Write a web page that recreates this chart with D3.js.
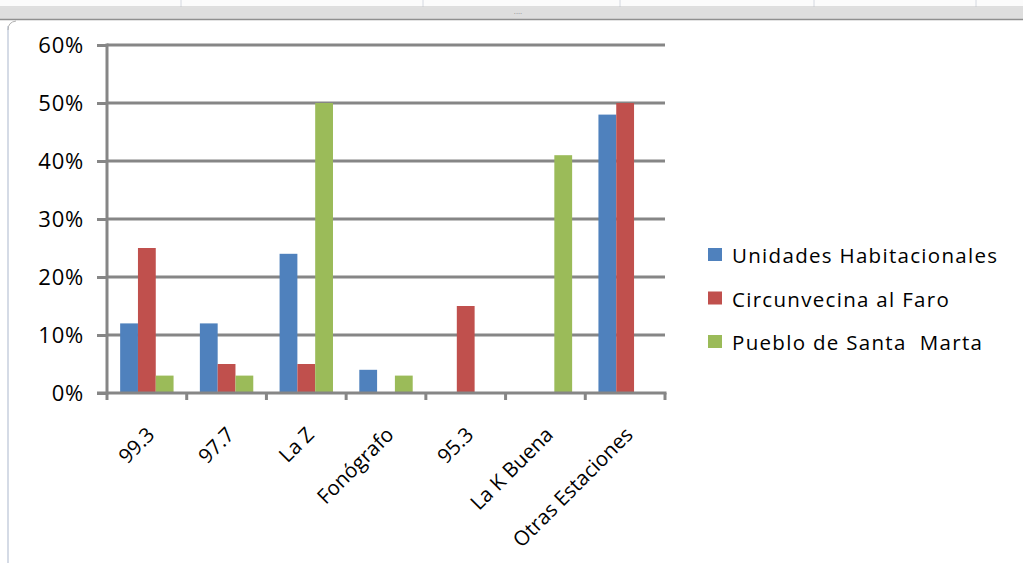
<!DOCTYPE html>
<html>
<head>
<meta charset="utf-8">
<script src="https://cdn.jsdelivr.net/npm/d3@7"></script>
<style>
  html, body { margin: 0; padding: 0; background: #fff; }
  svg { display: block; font-family: "Open Sans", "Noto Sans", sans-serif; }
</style>
</head>
<body>
<svg id="chart" width="1023" height="563"></svg>
<script>
// Data
const categories = ["99.3", "97.7", "La Z", "Fonógrafo", "95.3", "La K Buena", "Otras Estaciones"];
const seriesNames = ["Unidades Habitacionales", "Circunvecina al Faro", "Pueblo de Santa  Marta"];
const unidades = [12, 12, 24, 4, 0, 0, 48];
const circunvecina = [25, 5, 5, 0, 15, 0, 50];
const pueblo = [3, 3, 50, 3, 0, 41, 0];
const yTicks = [0, 10, 20, 30, 40, 50, 60];
const colors = ["#4f81bd", "#c0504d", "#9bbb59"];

const svg = d3.select("#chart");
const width = 1023, height = 563;

// spreadsheet chrome behind the chart
const chrome = svg.append("g");
chrome.append("rect").attr("x", 0).attr("y", 0).attr("width", width).attr("height", 7).attr("fill", "#fbfbfb");
[181, 423, 620, 814, 976].forEach(x => {
    chrome.append("line").attr("x1", x).attr("x2", x).attr("y1", 0).attr("y2", 7)
        .attr("stroke", "#d4d8e0").attr("stroke-width", 1);
});
chrome.append("line").attr("x1", 0).attr("x2", width).attr("y1", 7).attr("y2", 7).attr("stroke", "#c0c0c0");
chrome.append("rect").attr("x", 0).attr("y", 8).attr("width", width).attr("height", 11).attr("fill", "#dedede");
chrome.append("line").attr("x1", 0).attr("x2", width).attr("y1", 19.5).attr("y2", 19.5)
    .attr("stroke", "#8f8f8f").attr("stroke-width", 1.5);
chrome.append("text").attr("x", 518).attr("y", 16).attr("text-anchor", "middle")
    .attr("font-size", 8).attr("fill", "#888").text("····");
chrome.append("line").attr("x1", 8).attr("x2", 8).attr("y1", 26).attr("y2", height)
    .attr("stroke", "#d5dbe6").attr("stroke-width", 2);
chrome.append("path").attr("d", "M8,30 Q8,22 16,21").attr("fill", "none").attr("stroke", "#b0b0b0");

// Scales
const plot = { left: 107, right: 665, top: 45, bottom: 393 };
const x = d3.scaleBand().domain(categories).range([plot.left, plot.right])
    .paddingInner(0.33).paddingOuter(0.165);
const x1 = d3.scaleBand().domain(seriesNames).range([0, x.bandwidth()]);
const y = d3.scaleLinear().domain([0, 60]).range([plot.bottom, plot.top]);
const axisColor = "#868686";

// Gridlines
svg.append("g")
    .selectAll("line")
    .data(yTicks.filter(d => d > 0))
    .join("line")
    .attr("x1", plot.left).attr("x2", plot.right)
    .attr("y1", d => y(d)).attr("y2", d => y(d))
    .attr("stroke", axisColor).attr("stroke-width", 3);

// Bars
const table = categories.map((c, i) => ({
    cat: c,
    vals: [unidades[i], circunvecina[i], pueblo[i]]
}));

svg.append("g")
    .selectAll("g")
    .data(table)
    .join("g")
    .attr("transform", d => `translate(${x(d.cat)},0)`)
    .selectAll("rect")
    .data(d => d.vals.map((v, j) => ({ name: seriesNames[j], v, j })))
    .join("rect")
    .attr("x", d => x1(d.name))
    .attr("width", x1.bandwidth())
    .attr("y", d => y(d.v))
    .attr("height", d => y(0) - y(d.v))
    .attr("fill", d => colors[d.j]);

// Y axis
const gy = svg.append("g")
    .attr("transform", `translate(${plot.left},0)`)
    .call(d3.axisLeft(y).tickValues(yTicks).tickSize(10).tickPadding(13)
        .tickFormat(d => d + "%"));
gy.select(".domain").attr("stroke", axisColor).attr("stroke-width", 3)
    .attr("d", `M0,${plot.top - 1.5}V${plot.bottom + 1.5}`);
gy.selectAll(".tick line").attr("stroke", axisColor).attr("stroke-width", 3);
gy.selectAll(".tick text").attr("font-size", 22).attr("fill", "#000")
    .attr("font-family", "Open Sans, sans-serif")
    .attr("letter-spacing", 0.8)
    .attr("dy", "0.36em");

// X axis
const gx = svg.append("g")
    .attr("transform", `translate(0,${plot.bottom})`)
    .call(d3.axisBottom(x).tickSize(0).tickPadding(0));
gx.select(".domain").remove();
gx.append("line").attr("x1", plot.left - 10).attr("x2", plot.right + 1.5)
    .attr("y1", 0).attr("y2", 0).attr("stroke", axisColor).attr("stroke-width", 3);
const edges = categories.map(c => x(c) - x.step() * x.paddingInner() / 2)
    .concat([plot.right]);
gx.selectAll(".edge")
    .data(edges)
    .join("line")
    .attr("class", "edge")
    .attr("x1", d => d).attr("x2", d => d)
    .attr("y1", 0).attr("y2", 7)
    .attr("stroke", axisColor).attr("stroke-width", 3);
gx.selectAll(".tick text")
    .attr("font-size", 20.5).attr("fill", "#000")
    .attr("font-family", "Open Sans, sans-serif")
    .attr("letter-spacing", 0)
    .attr("text-anchor", "end")
    .attr("dy", null)
    .attr("transform", "translate(9,43) rotate(-45)");

// Legend
const legend = svg.append("g").attr("transform", "translate(708,248)");
const items = legend.selectAll("g")
    .data(seriesNames)
    .join("g")
    .attr("transform", (d, i) => `translate(0,${i * 43.5})`);
items.append("rect").attr("width", 14).attr("height", 13)
    .attr("fill", (d, i) => colors[i]);
items.append("text")
    .attr("x", 24).attr("y", 15)
    .attr("font-size", 20.5)
    .attr("letter-spacing", 1.3)
    .attr("fill", "#000")
    .style("white-space", "pre")
    .text(d => d);
</script>
</body>
</html>
